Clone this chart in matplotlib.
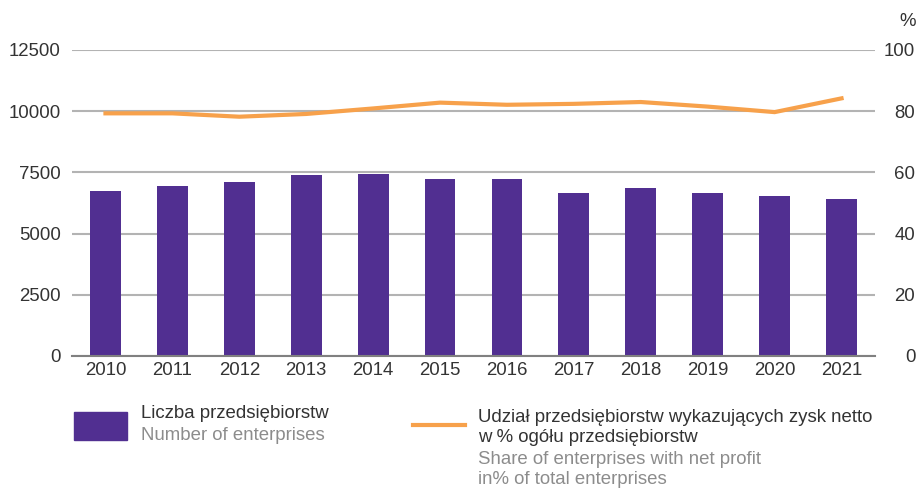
import matplotlib
matplotlib.use("Agg")
import matplotlib.pyplot as plt
from matplotlib.patches import Rectangle
from matplotlib.lines import Line2D

plt.rcParams['font.family'] = ['Liberation Sans', 'DejaVu Sans']

years = ["2010", "2011", "2012", "2013", "2014", "2015", "2016", "2017", "2018", "2019", "2020", "2021"]
enterprises = [6740, 6945, 7110, 7395, 7435, 7230, 7230, 6660, 6865, 6660, 6535, 6415]
profit_share = [79.3, 79.3, 78.2, 79.1, 80.9, 82.8, 82.1, 82.4, 83.0, 81.5, 79.7, 84.2]
left_ticks = [0, 2500, 5000, 7500, 10000, 12500]
right_ticks = [0, 20, 40, 60, 80, 100]

PURPLE = "#512F91"
ORANGE = "#F7A14B"
GRID = "#B3B3B3"
TXT = "#333333"
GRAYTXT = "#8C8C8C"
FS = 13.4

fig = plt.figure(figsize=(9.2, 4.88), dpi=100)
ax = fig.add_axes([72/920, 1-356/488, (875-72)/920, (356-50)/488])
x = list(range(len(years)))
ax.bar(x, enterprises, width=0.46, color=PURPLE, zorder=2)
ax.set_xlim(-0.5, len(years)-0.5)
ax.set_ylim(0, 12500)
ax.set_yticks(left_ticks)
ax.set_yticklabels([str(v) for v in left_ticks])
ax.set_xticks(x)
ax.set_xticklabels(years)
ax.grid(axis='y', color=GRID, linewidth=1.5, zorder=0)
ax.set_axisbelow(True)
for s in ['top', 'right', 'left']:
    ax.spines[s].set_visible(False)
ax.spines['bottom'].set_color('#808080')
ax.spines['bottom'].set_linewidth(1.5)
ax.tick_params(axis='both', length=0, labelsize=FS, colors=TXT)
ax.tick_params(axis='y', pad=8)
ax.tick_params(axis='x', pad=4)

ax2 = ax.twinx()
ax2.plot(x, profit_share, color=ORANGE, linewidth=3, zorder=3, solid_joinstyle='miter')
ax2.set_ylim(0, 100)
ax2.set_yticks(right_ticks)
ax2.set_yticklabels([str(v) for v in right_ticks])
for s in ['top', 'right', 'left', 'bottom']:
    ax2.spines[s].set_visible(False)
ax2.tick_params(axis='y', length=0, labelsize=FS, colors=TXT)
for lab in ax2.get_yticklabels():
    lab.set_horizontalalignment('right')
ax2.tick_params(axis='y', pad=29)

fig.text(916/920, 1-22/488, "%", fontsize=FS, color=TXT, ha='right', va='center')

# legend
fig.patches.append(Rectangle((74/920, 1-440/488), 53/920, 28/488, transform=fig.transFigure,
                             color=PURPLE, figure=fig))
fig.text(141/920, 1-414/488, "Liczba przedsiębiorstw", fontsize=FS, color=TXT, va='center')
fig.text(141/920, 1-436/488, "Number of enterprises", fontsize=FS, color=GRAYTXT, va='center')
fig.lines.append(Line2D([413/920, 465/920], [1-425/488, 1-425/488], transform=fig.transFigure,
                        color=ORANGE, linewidth=3, figure=fig))
fig.text(478/920, 1-417/488, "Udział przedsiębiorstw wykazujących zysk netto", fontsize=FS, color=TXT, va='center')
fig.text(478/920, 1-438/488, "w % ogółu przedsiębiorstw", fontsize=FS, color=TXT, va='center')
fig.text(478/920, 1-460/488, "Share of enterprises with net profit", fontsize=FS, color=GRAYTXT, va='center')
fig.text(478/920, 1-480/488, "in% of total enterprises", fontsize=FS, color=GRAYTXT, va='center')

fig.savefig("out.png", dpi=100)
